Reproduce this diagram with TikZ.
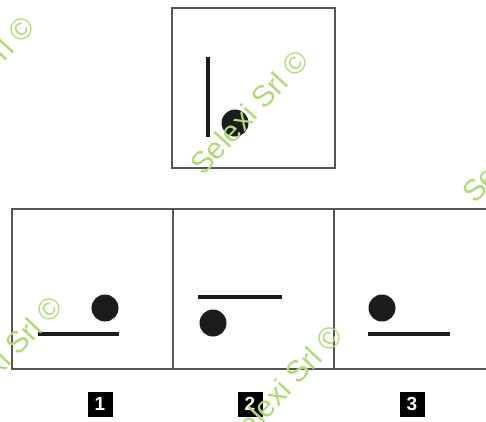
\documentclass[tikz,border=0pt]{standalone}
\usepackage{fontspec}
\setmainfont{Liberation Sans}
\usepackage{tikz}
\definecolor{frame}{RGB}{85, 85, 85}
\definecolor{ink}{RGB}{28, 28, 28}
\definecolor{wmgreen}{RGB}{176, 218, 120}

\begin{document}
\begin{tikzpicture}[x=1pt, y=-1pt,
    box/.style={draw=frame, line width=2.4pt},
    bar/.style={draw=ink, line width=4pt},
    dot/.style={fill=ink},
    tag/.style={fill=black, text=white, font=\bfseries\fontsize{19}{19}\selectfont, minimum size=25pt, inner sep=0pt},
    wm/.style={text=wmgreen, font=\fontsize{30}{30}\selectfont, rotate=47, inner sep=0pt}]
    \useasboundingbox (0, 0) rectangle (486, 421);
    \clip (0, 0) rectangle (486, 421);

    % Question box
    \draw[box] (172, 8) rectangle (335, 168);
    \draw[bar] (208, 57) -- (208, 137);
    \fill[dot] (235, 123) circle (13.5pt);

    % Answer strip
    \draw[box] (12, 209) rectangle (497, 369);
    \draw[box] (173, 209) -- (173, 369);
    \draw[box] (334, 209) -- (334, 369);

    % Option 1
    \draw[bar] (38, 334) -- (119, 334);
    \fill[dot] (105, 308) circle (13.5pt);

    % Option 2
    \draw[bar] (198, 297) -- (282, 297);
    \fill[dot] (213, 323) circle (13.5pt);

    % Option 3
    \draw[bar] (368, 334) -- (450, 334);
    \fill[dot] (382, 308) circle (13.5pt);

    % Labels
    \node[tag] (tag1) at (100, 404) {1};
    \node[tag] (tag2) at (250, 404) {2};
    \node[tag] (tag3) at (412, 404) {3};

    % Watermarks
    \node[wm] (wm1) at (-25, 78) {Selexi Srl ©};
    \node[wm] (wm2) at (249, 112) {Selexi Srl ©};
    \node[wm] (wm3) at (521, 140) {Selexi Srl ©};
    \node[wm] (wm4) at (3, 358) {Selexi Srl ©};
    \node[wm] (wm5) at (283, 387) {Selexi Srl ©};
\end{tikzpicture}
\end{document}
